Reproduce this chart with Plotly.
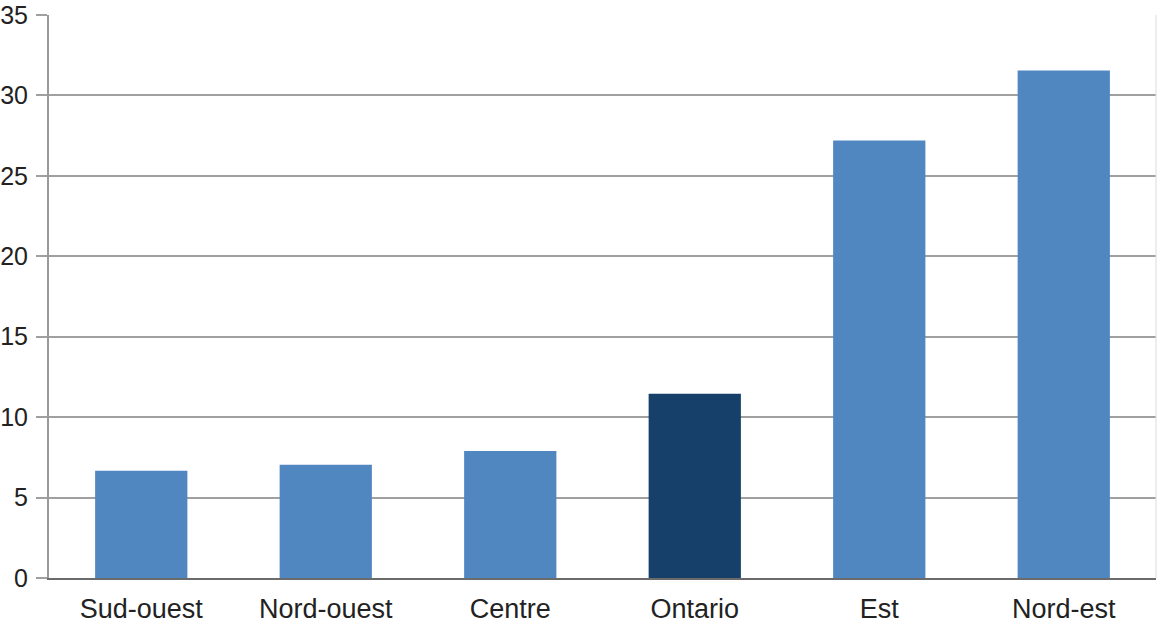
import plotly.graph_objects as go

categories = ["Sud-ouest", "Nord-ouest", "Centre", "Ontario", "Est", "Nord-est"]
values = [6.67, 7.04, 7.9, 11.45, 27.2, 31.55]
colors = ["#5087C1", "#5087C1", "#5087C1", "#16406A", "#5087C1", "#5087C1"]
y_ticks = [0, 5, 10, 15, 20, 25, 30, 35]

fig = go.Figure(go.Bar(x=categories, y=values, marker=dict(color=colors, line=dict(width=0)), width=0.5))

fig.update_layout(
    width=1157, height=623,
    margin=dict(l=49, r=1, t=15, b=45),
    paper_bgcolor="white", plot_bgcolor="white",
    font=dict(family="Liberation Sans, Arial, sans-serif", size=27, color="#222222"),
    showlegend=False,
    bargap=0.5,
)
fig.update_xaxes(
    showgrid=False, showline=True, linecolor="#6b6b6b", linewidth=2,
    ticks="", tickfont=dict(size=27), range=[-0.5, 5.5], ticklabelstandoff=6,
    automargin=False,
)
fig.update_yaxes(
    range=[0, 35], tickvals=y_ticks, showgrid=True, gridcolor="#a0a0a0", gridwidth=2,
    showline=True, linecolor="#9a9a9a", linewidth=2,
    ticks="outside", ticklen=11, tickcolor="#a0a0a0", tickwidth=2,
    zeroline=False, tickfont=dict(size=25), ticklabelstandoff=3,
    automargin=False,
)
fig.add_shape(type="line", xref="paper", yref="paper", x0=1, x1=1, y0=0, y1=1,
              line=dict(color="#dddddd", width=1))
fig.write_html("out.html")
